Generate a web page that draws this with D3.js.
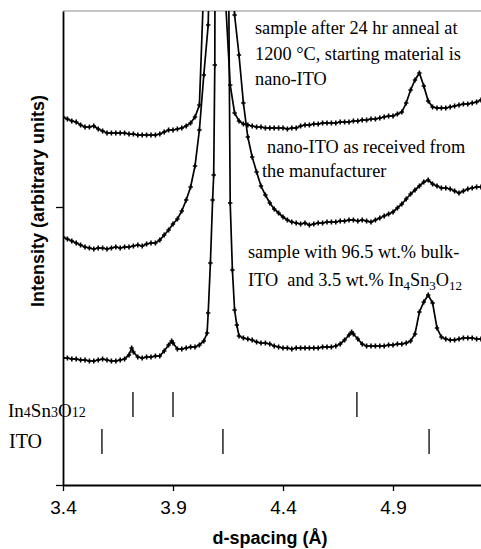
<!DOCTYPE html>
<html>
<head>
<meta charset="utf-8">
<script src="https://cdn.jsdelivr.net/npm/d3@7"></script>
<style>
  body { margin: 0; background: #fff; }
  .serif { font-family: "Liberation Serif", "Times New Roman", serif; fill: #000; }
  .sans { font-family: "Liberation Sans", Arial, sans-serif; fill: #000; }
</style>
</head>
<body>
<script>
// d-spacing (A) vs intensity (arbitrary units)
const annealed = [
  [3.40,368],[3.42,366],[3.44,364],[3.46,363],[3.48,360],[3.50,358],[3.52,358],[3.54,359],[3.56,356],[3.58,354],
  [3.60,352],[3.62,352],[3.64,352],[3.66,352],[3.68,352],[3.70,351],[3.72,351],[3.74,350],[3.76,350],[3.78,350],
  [3.80,350],[3.82,350],[3.84,351],[3.86,353],[3.88,355],[3.90,355],[3.92,356],[3.94,357],[3.96,359],[3.98,362],
  [4.00,368],[4.02,380],[4.04,500],[4.06,700],[4.08,900],[4.10,1000],[4.12,900],[4.14,480],[4.16,400],[4.18,372],
  [4.20,364],[4.22,361],[4.24,360],[4.26,359],[4.28,358],[4.30,358],[4.32,357],[4.34,357],[4.36,357],[4.38,357],
  [4.40,357],[4.42,356],[4.44,357],[4.46,357],[4.48,359],[4.50,360],[4.52,360],[4.54,361],[4.56,361],[4.58,362],
  [4.60,362],[4.62,362],[4.64,362],[4.66,363],[4.68,363],[4.70,363],[4.72,364],[4.74,364],[4.76,365],[4.78,365],
  [4.80,366],[4.82,366],[4.84,367],[4.86,368],[4.88,369],[4.90,369],[4.92,371],[4.94,373],[4.96,382],[4.98,395],
  [5.00,405],[5.02,412],[5.04,399],[5.06,384],[5.08,378],[5.10,377],[5.12,377],[5.14,377],[5.16,378],[5.18,379],
  [5.20,380],[5.22,381],[5.24,381],[5.26,382],[5.28,383],[5.30,385]
];

const asReceived = [
  [3.40,248],[3.42,246],[3.44,244],[3.46,242],[3.48,240],[3.50,238],[3.52,237],[3.54,236],[3.56,237],[3.58,237],
  [3.60,236],[3.62,237],[3.64,238],[3.66,237],[3.68,238],[3.70,238],[3.72,239],[3.74,240],[3.76,239],[3.78,241],
  [3.80,242],[3.82,242],[3.84,245],[3.86,250],[3.88,255],[3.90,261],[3.92,266],[3.94,274],[3.96,285],[3.98,298],
  [4.00,319],[4.02,355],[4.04,410],[4.06,460],[4.08,700],[4.10,1000],[4.12,1100],[4.14,900],[4.16,560],[4.18,470],
  [4.20,430],[4.22,382],[4.24,348],[4.26,328],[4.28,313],[4.30,299],[4.32,290],[4.34,282],[4.36,276],[4.38,272],
  [4.40,268],[4.42,265],[4.44,263],[4.46,262],[4.48,261],[4.50,262],[4.52,260],[4.54,261],[4.56,262],[4.58,262],
  [4.60,263],[4.62,263],[4.64,263],[4.66,264],[4.68,264],[4.70,265],[4.72,265],[4.74,264],[4.76,265],[4.78,264],
  [4.80,263],[4.82,265],[4.84,267],[4.86,269],[4.88,271],[4.90,273],[4.92,277],[4.94,281],[4.96,286],[4.98,291],
  [5.00,295],[5.02,299],[5.04,303],[5.06,305],[5.08,301],[5.10,299],[5.12,297],[5.14,297],[5.16,296],[5.18,294],
  [5.20,292],[5.22,294],[5.24,296],[5.26,297],[5.28,298],[5.30,298]
];

const bulkMix = [
  [3.40,127],[3.42,127],[3.44,126],[3.46,126],[3.48,125],[3.50,125],[3.52,124],[3.54,124],[3.56,125],[3.58,126],
  [3.60,125],[3.62,124],[3.64,124],[3.66,125],[3.68,126],[3.70,130],[3.712,137],[3.72,133],[3.74,128],[3.76,127],
  [3.78,128],[3.80,128],[3.82,129],[3.84,129],[3.86,134],[3.88,140],[3.894,144],[3.90,142],[3.92,136],[3.94,136],
  [3.96,137],[3.98,138],[4.00,138],[4.02,140],[4.04,144],[4.055,152],[4.06,172],[4.07,222],[4.08,285],[4.085,310],
  [4.09,420],[4.10,1500],[4.12,2500],[4.14,1500],[4.15,600],[4.16,282],[4.17,215],[4.18,175],[4.19,160],[4.20,149],
  [4.22,147],[4.24,146],[4.26,145],[4.28,143],[4.30,142],[4.32,142],[4.34,141],[4.36,139],[4.38,138],[4.40,137],
  [4.42,137],[4.44,136],[4.46,137],[4.48,137],[4.50,137],[4.52,137],[4.54,137],[4.56,137],[4.58,138],[4.60,138],
  [4.62,138],[4.64,139],[4.66,141],[4.68,145],[4.70,150],[4.712,153],[4.72,151],[4.74,146],[4.76,141],[4.78,139],
  [4.80,139],[4.82,139],[4.84,139],[4.86,139],[4.88,140],[4.90,140],[4.92,141],[4.94,141],[4.96,142],[4.98,144],
  [5.00,151],[5.02,173],[5.04,183],[5.06,190],[5.08,182],[5.10,157],[5.12,148],[5.14,146],[5.16,145],[5.18,145],
  [5.20,146],[5.22,147],[5.24,147],[5.26,147],[5.28,146],[5.30,146]
];

// reference line positions (d-spacing)
const in4Sn3O12Lines = [3.718, 3.900, 4.736];
const itoLines = [3.577, 4.127, 5.064];

const xTicks = [3.4, 3.9, 4.4, 4.9];
const yTicks = [0, 278];

const width = 481;
const height = 549;
const plotLeft = 63, plotTop = 11, plotBottom = 485;

const x = d3.scaleLinear().domain([3.4, 5.3]).range([plotLeft, width]);
const y = d3.scaleLinear().domain([0, 474]).range([plotBottom, plotTop]);

const svg = d3.select("body")
  .append("svg")
  .attr("width", width)
  .attr("height", height);

svg.append("clipPath")
  .attr("id", "plot")
  .append("rect")
  .attr("x", plotLeft)
  .attr("y", plotTop)
  .attr("width", width - plotLeft)
  .attr("height", plotBottom - plotTop);

// grey frame line along the top
svg.append("line")
  .attr("x1", plotLeft).attr("x2", width)
  .attr("y1", plotTop).attr("y2", plotTop)
  .attr("stroke", "#8c8c8c")
  .attr("stroke-width", 1.2);

// curves with "+" markers
const line = d3.line()
  .x(d => x(d[0]))
  .y(d => y(d[1]));

const curves = svg.append("g").attr("clip-path", "url(#plot)");

[annealed, asReceived, bulkMix].forEach(series => {
  curves.append("path")
    .datum(series)
    .attr("fill", "none")
    .attr("stroke", "#000")
    .attr("stroke-width", 1.7)
    .attr("d", line);

  curves.selectAll(null)
    .data(series)
    .enter()
    .append("path")
    .attr("transform", d => `translate(${x(d[0])},${y(d[1])})`)
    .attr("d", "M-2.2,0H2.2M0,-2.6V2.6")
    .attr("stroke", "#000")
    .attr("stroke-width", 1.6);
});

// stick patterns
svg.selectAll(".in4")
  .data(in4Sn3O12Lines)
  .enter()
  .append("line")
  .attr("class", "in4")
  .attr("x1", d => x(d)).attr("x2", d => x(d))
  .attr("y1", 392).attr("y2", 417)
  .attr("stroke", "#000")
  .attr("stroke-width", 1.3);

svg.selectAll(".ito")
  .data(itoLines)
  .enter()
  .append("line")
  .attr("class", "ito")
  .attr("x1", d => x(d)).attr("x2", d => x(d))
  .attr("y1", 429).attr("y2", 454)
  .attr("stroke", "#000")
  .attr("stroke-width", 1.3);

// axes
const xAxis = svg.append("g")
  .attr("transform", `translate(0,${plotBottom})`)
  .call(d3.axisBottom(x)
    .tickValues(xTicks)
    .tickFormat(d3.format(".1f"))
    .tickSize(6)
    .tickSizeOuter(0)
    .tickPadding(10));

const yAxis = svg.append("g")
  .attr("transform", `translate(${plotLeft},0)`)
  .call(d3.axisLeft(y)
    .tickValues(yTicks)
    .tickFormat("")
    .tickSize(7)
    .tickSizeOuter(0));

[xAxis, yAxis].forEach(g => {
  g.select(".domain").attr("stroke", "#000").attr("stroke-width", 1.8);
  g.selectAll(".tick line").attr("stroke", "#000").attr("stroke-width", 1.3);
});

xAxis.selectAll(".tick text")
  .attr("class", "sans")
  .style("font-size", "19px")
  .attr("fill", "#000");

svg.append("text")
  .attr("class", "sans")
  .attr("x", 270)
  .attr("y", 544)
  .attr("text-anchor", "middle")
  .style("font-size", "18px")
  .style("font-weight", "bold")
  .text("d-spacing (Å)");

svg.append("text")
  .attr("class", "sans")
  .attr("transform", "rotate(-90)")
  .attr("x", -201)
  .attr("y", 44)
  .attr("text-anchor", "middle")
  .style("font-size", "18px")
  .style("font-weight", "bold")
  .text("Intensity (arbitrary units)");

// annotations
function note(xPos, yPos, str) {
  return svg.append("text")
    .attr("class", "serif")
    .attr("x", xPos)
    .attr("y", yPos)
    .style("font-size", "18.3px")
    .text(str);
}

note(255, 34, "sample after 24 hr anneal at");
note(255, 60, "1200 °C, starting material is");
note(255, 85, "nano-ITO");
note(267, 153, "nano-ITO as received from");
note(262, 177, "the manufacturer");
note(248, 258, "sample with 96.5 wt.% bulk-");

const mixNote = note(248, 286, "ITO\u00a0 and 3.5 wt.% In");
[["4", true], ["Sn", false], ["3", true], ["O", false], ["12", true]].forEach(([t, sub]) => {
  mixNote.append("tspan")
    .attr("dy", sub ? 4 : -4)
    .style("font-size", sub ? "13px" : "18.3px")
    .text(t);
});

// pattern labels on the left
const in4Label = svg.append("text")
  .attr("class", "serif")
  .attr("x", 8)
  .attr("y", 417)
  .style("font-size", "19px");
[["In", false], ["4", true], ["Sn", false], ["3", true], ["O", false], ["12", true]].forEach(([t, sub]) => {
  in4Label.append("tspan")
    .style("font-size", sub ? "14px" : "19px")
    .text(t);
});

svg.append("text")
  .attr("class", "serif")
  .attr("x", 9)
  .attr("y", 448)
  .style("font-size", "20px")
  .text("ITO");
</script>
</body>
</html>
